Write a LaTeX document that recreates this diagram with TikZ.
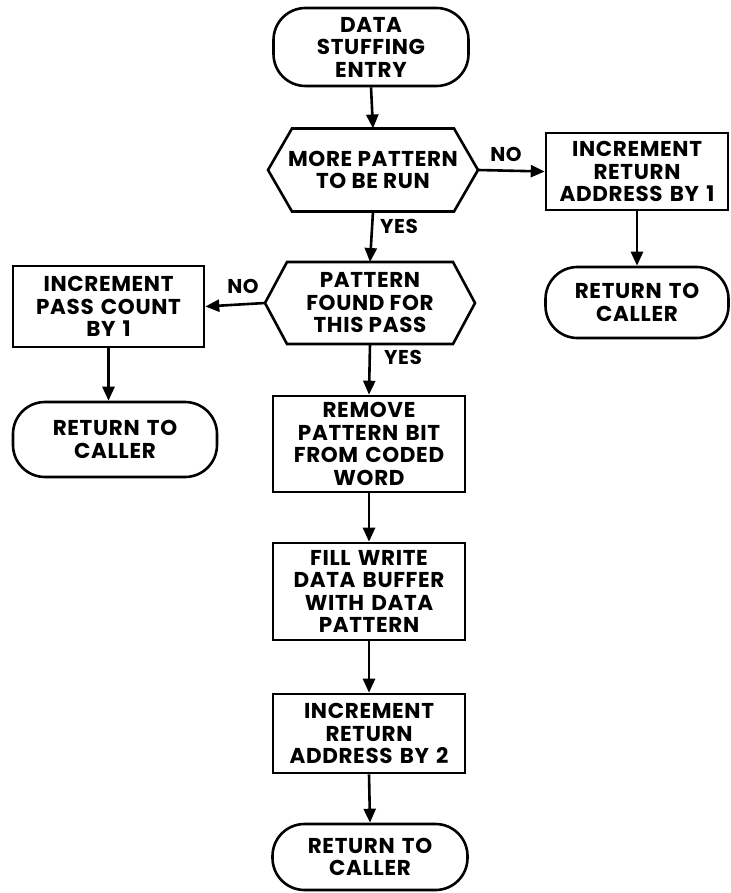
\documentclass[tikz,border=0pt]{standalone}
\usepackage{fontspec}
\setmainfont{Poppins}[LetterSpace=3]
\usetikzlibrary{arrows.meta,calc}
\tikzset{
  every node/.style={font=\bfseries\fontsize{21.5}{22.5}\selectfont, align=center, inner sep=0pt},
  box/.style={draw, line width=2.6pt, minimum width=#1, text width=#1-4pt},
  term/.style={draw, line width=2.6pt, rounded corners=32pt, minimum width=#1, text width=#1-8pt},
  hexn/.style={},
  flow/.style={line width=2.6pt, -{Triangle[length=14pt,width=12pt]}},
  hexline/.style={line width=2.6pt, line join=miter},
  lbl/.style={font=\bfseries\fontsize{20}{22}\selectfont}
}
\begin{document}
\begin{tikzpicture}[x=1pt,y=-1pt]
\useasboundingbox (0,0) rectangle (730,893);
% main column
\node[term=195pt, minimum height=78pt] (entry) at (371,47) {DATA\\STUFFING\\ENTRY};
% hexagon 1
\node[hexn] (h1) at (373,170) {MORE PATTERN\\TO BE RUN};
\coordinate (h1t) at ($(h1.center)+(0,-41.5)$);
\coordinate (h1b) at ($(h1.center)+(0,41.5)$);
\coordinate (h1r) at ($(h1.center)+(105,0)$);
\coordinate (h1l) at ($(h1.center)+(-105,0)$);
\draw[hexline] ($(h1.center)+(-81,-41.5)$) -- ($(h1.center)+(81,-41.5)$) -- (h1r) -- ($(h1.center)+(81,41.5)$) -- ($(h1.center)+(-81,41.5)$) -- (h1l) -- cycle;
% hexagon 2
\node[hexn] (h2) at (370,303) {PATTERN\\FOUND FOR\\THIS PASS};
\coordinate (h2t) at ($(h2.center)+(0,-41)$);
\coordinate (h2b) at ($(h2.center)+(0,41)$);
\coordinate (h2r) at ($(h2.center)+(105,0)$);
\coordinate (h2l) at ($(h2.center)+(-105,0)$);
\draw[hexline] ($(h2.center)+(-83,-41)$) -- ($(h2.center)+(83,-41)$) -- (h2r) -- ($(h2.center)+(83,41)$) -- ($(h2.center)+(-83,41)$) -- (h2l) -- cycle;
\node[box=192pt, minimum height=96pt] (rem) at (369,444) {REMOVE\\PATTERN BIT\\FROM CODED\\WORD};
\node[box=192pt, minimum height=97pt] (fill) at (369,591.5) {FILL WRITE\\DATA BUFFER\\WITH DATA\\PATTERN};
\node[box=192pt, minimum height=79pt] (inc2) at (369,733.5) {INCREMENT\\RETURN\\ADDRESS BY 2};
\node[term=195pt, minimum height=66pt] (ret3) at (370,857) {RETURN TO\\CALLER};
% right branch
\node[box=182pt, minimum height=77pt] (inc1) at (637,171.5) {INCREMENT\\RETURN\\ADDRESS BY 1};
\node[term=183pt, minimum height=71pt] (ret1) at (637,302.5) {RETURN TO\\CALLER};
% left branch
\node[box=191pt, minimum height=81pt] (pass) at (108.5,306.5) {INCREMENT\\PASS COUNT\\BY 1};
\node[term=204pt, minimum height=75pt] (ret2) at (115,439.5) {RETURN TO\\CALLER};
% connectors
\draw[flow] (entry.south) -- (h1t);
\draw[flow] (h1b) -- (h2t);
\draw[flow] (h2b) -- (rem.north);
\draw[flow] (rem.south) -- (fill.north);
\draw[flow] (fill.south) -- (inc2.north);
\draw[flow] (inc2.south) -- (ret3.north);
\draw[flow] (h1r) -- (inc1.west);
\draw[flow] (inc1.south) -- (ret1.north);
\draw[flow] (h2l) -- (pass.east);
\draw[flow] (pass.south) -- (ret2.north -| pass.south);
% labels
\node[lbl] (no1) at (506,154) {NO};
\node[lbl] (yes1) at (399,226) {YES};
\node[lbl] (no2) at (243,286) {NO};
\node[lbl] (yes2) at (403,357) {YES};
\end{tikzpicture}
\end{document}
